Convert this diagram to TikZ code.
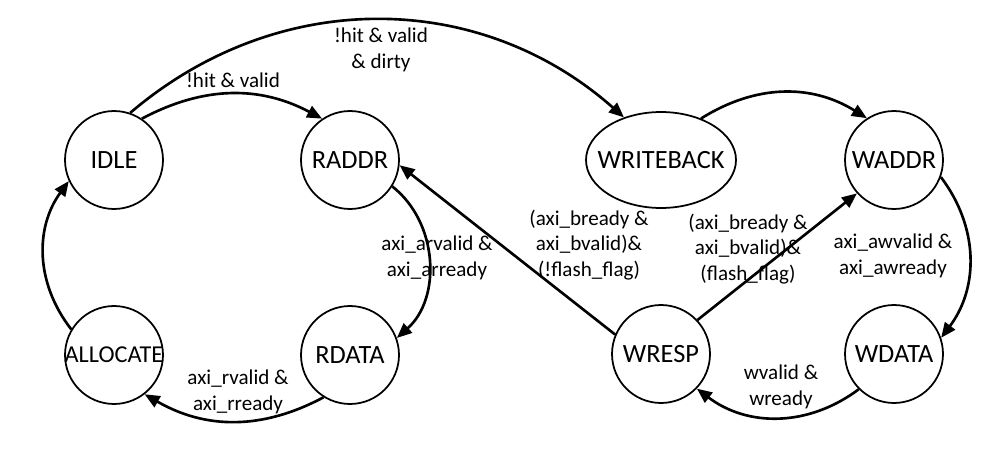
\documentclass[tikz,border=0pt]{standalone}
\usepackage{fontspec}
\setmainfont{Carlito}
\usetikzlibrary{arrows.meta, shapes.geometric}

\begin{document}
\begin{tikzpicture}[x=0.02cm, y=-0.02cm,
    stateCircle/.style={draw, circle, line width=1pt, minimum size=1.96cm,
                        inner sep=0pt, font=\fontsize{15}{18}\selectfont},
    stateEllipse/.style={draw, ellipse, line width=1pt, minimum width=3cm,
                         minimum height=1.92cm, inner sep=0pt,
                         font=\fontsize{15}{18}\selectfont},
    trans/.style={line width=1.5pt, -{Triangle[length=3mm, width=2.5mm]}},
    edgeLabel/.style={align=center, inner sep=0pt,
                      font=\fontsize{12}{14.5}\selectfont}]
  \useasboundingbox (0,0) rectangle (997,453);

  \node[stateCircle]  (idle)      at (114,160) {IDLE};
  \node[stateCircle]  (raddr)     at (350,160) {RADDR};
  \node[stateCircle]  (rdata)     at (350,355) {RDATA};
  \node[stateCircle]  (allocate)  at (114,355)
       {\makebox[0pt]{\fontsize{13.8}{16}\selectfont ALLOCATE}};
  \node[stateEllipse] (writeback) at (661,160) {\makebox[0pt]{WRITEBACK}};
  \node[stateCircle]  (waddr)     at (894,160) {WADDR};
  \node[stateCircle]  (wdata)     at (894,354) {WDATA};
  \node[stateCircle]  (wresp)     at (661,354) {WRESP};

  \draw[trans] (idle.56) to[bend left=28] (raddr.124);
  \draw[trans] (idle.71) to[bend left=41] (writeback.131);
  \draw[trans] (writeback.46) to[bend left=32] (waddr.123);
  \draw[trans] (raddr.-32) to[bend left=50] (rdata.20);
  \draw[trans] (rdata.238) to[bend left=29] (allocate.-52);
  \draw[trans] (allocate.149) to[bend left=37] (idle.205);
  \draw[trans] (wresp.157) -- (raddr.-6);
  \draw[trans] (wresp.43) -- (waddr.222);
  \draw[trans] (waddr.-20) to[bend left=37] (wdata.19);
  \draw[trans] (wdata.225) to[bend left=37] (wresp.-44);

  \node[edgeLabel] (lblIdleRaddr) at (233,80) {!hit \& valid};
  \node[edgeLabel] (lblIdleWb)    at (381,50) {!hit \& valid\\\& dirty};
  \node[edgeLabel] (lblRaddr)     at (437,258) {axi\_arvalid \&\\axi\_arready};
  \node[edgeLabel] (lblRdata)     at (238,392) {axi\_rvalid \&\\axi\_rready};
  \node[edgeLabel] (lblWrespR)    at (589,245)
       {(axi\_bready \&\\axi\_bvalid)\&\\(!flash\_flag)};
  \node[edgeLabel] (lblWrespW)    at (748,249)
       {(axi\_bready \&\\axi\_bvalid)\&\\(flash\_flag)};
  \node[edgeLabel] (lblWaddr)     at (893,256) {axi\_awvalid \&\\axi\_awready};
  \node[edgeLabel] (lblWdata)     at (781,387) {wvalid \&\\wready};
\end{tikzpicture}
\end{document}
